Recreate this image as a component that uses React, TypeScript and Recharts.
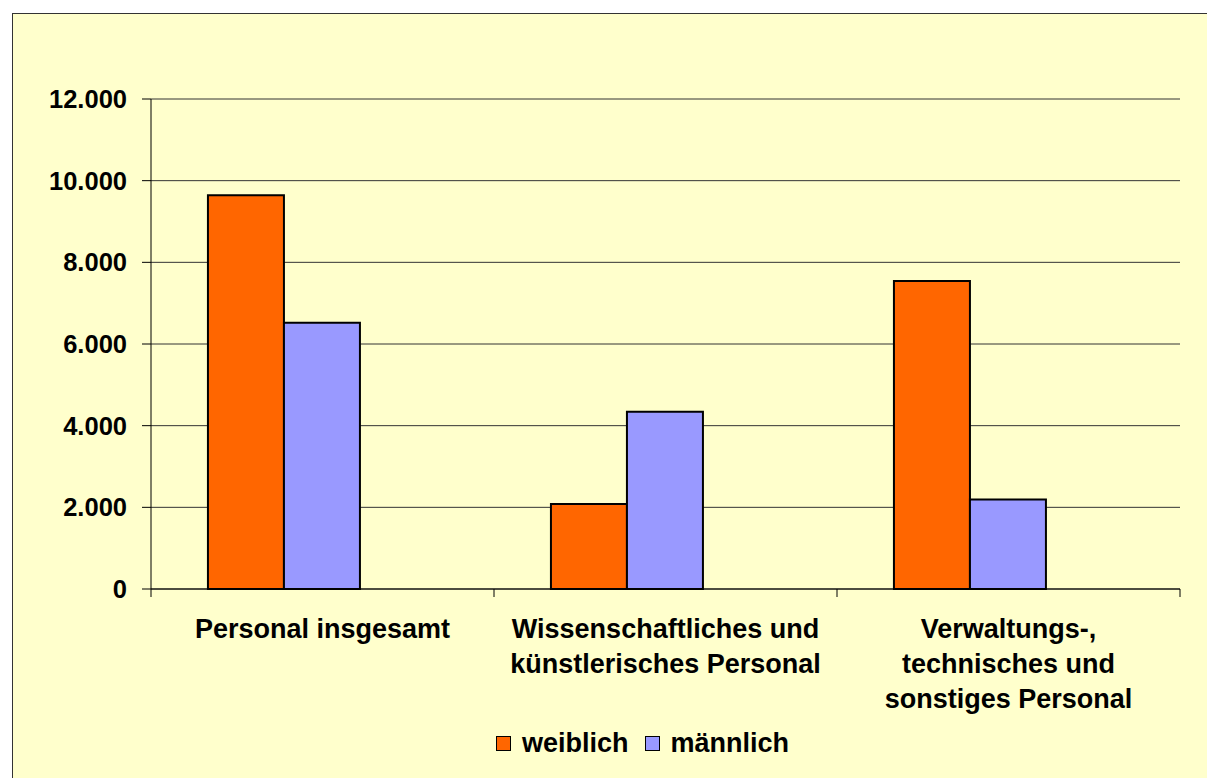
import React from "react";
import { BarChart, Bar, XAxis, YAxis, CartesianGrid } from "recharts";

const categories = [
  ["Personal insgesamt"],
  ["Wissenschaftliches und", "künstlerisches Personal"],
  ["Verwaltungs-,", "technisches und", "sonstiges Personal"],
];
const weiblich = [9645, 2080, 7540];
const maennlich = [6520, 4340, 2190];
const yTicks = [0, 2000, 4000, 6000, 8000, 10000, 12000];
const seriesNames = ["weiblich", "männlich"];
const seriesColors = ["#FF6600", "#9999FF"];

const data = categories.map((lines, i) => ({
  name: lines.join(" "),
  lines,
  weiblich: weiblich[i],
  maennlich: maennlich[i],
}));

const FONT = "'Liberation Sans', Arial, Helvetica, sans-serif";
const W = 1207;
const H = 778;
const X_H = 130;
const M = { top: 99, right: 27, bottom: 189 - X_H, left: 0 };
const Y_W = 151;
const BAND = (W - M.right - Y_W) / categories.length;

const fmt = (v: number) => v.toLocaleString("de-DE");

const XTick = (props: any) => {
  const { x, y, payload, index } = props;
  const lines: string[] = data[payload.index ?? index]?.lines ?? [String(payload.value)];
  return (
    <g>
      <line x1={x - BAND / 2} x2={x - BAND / 2} y1={y} y2={y + 8} stroke="#000" />
      {index === categories.length - 1 && (
        <line x1={x + BAND / 2} x2={x + BAND / 2} y1={y} y2={y + 8} stroke="#000" />
      )}
      {lines.map((t, k) => (
        <text
          key={k}
          x={x}
          y={y + 49 + k * 35}
          textAnchor="middle"
          fontFamily={FONT}
          fontWeight="bold"
          fontSize={27}
          fill="#000"
        >
          {t}
        </text>
      ))}
    </g>
  );
};

export default function App() {
  return (
    <div style={{ position: "fixed", left: 0, top: 0, width: W, height: H, overflow: "hidden", background: "#fff" }}>
      <div
        style={{
          position: "absolute",
          left: 12,
          top: 13,
          width: W + 20,
          height: H + 20,
          border: "1px solid #333",
          background: "#FFFFCC",
        }}
      />
      <div style={{ position: "absolute", left: 0, top: 0 }}>
        <BarChart width={W} height={H} data={data} margin={M} barCategoryGap="16.6%" barGap={0}>
          <CartesianGrid vertical={false} stroke="#333" strokeWidth={1} />
          <XAxis
            dataKey="name"
            axisLine={{ stroke: "#000" }}
            tickLine={false}
            tickSize={0}
            tickMargin={0}
            height={X_H}
            interval={0}
            tick={<XTick />}
          />
          <YAxis
            width={Y_W}
            domain={[0, 12000]}
            ticks={yTicks}
            tickFormatter={fmt}
            axisLine={{ stroke: "#000" }}
            tickLine={{ stroke: "#000" }}
            tickSize={9}
            tickMargin={15}
            tick={{ fontFamily: FONT, fontWeight: "bold", fontSize: 25.5, fill: "#000" }}
          />
          <Bar dataKey="weiblich" fill={seriesColors[0]} stroke="#000" strokeWidth={2} isAnimationActive={false} />
          <Bar dataKey="maennlich" fill={seriesColors[1]} stroke="#000" strokeWidth={2} isAnimationActive={false} />
          <Bar dataKey="leer" fill="none" isAnimationActive={false} />
        </BarChart>
      </div>
      <div
        style={{
          position: "absolute",
          left: 496,
          top: 728,
          display: "flex",
          alignItems: "center",
          fontFamily: FONT,
          fontWeight: "bold",
          fontSize: 27,
          color: "#000",
          whiteSpace: "nowrap",
        }}
      >
        {seriesNames.map((n, i) => (
          <div key={n} style={{ display: "flex", alignItems: "center", marginRight: 16 }}>
            <span
              style={{
                display: "inline-block",
                width: 13,
                height: 13,
                border: "1.5px solid #000",
                background: seriesColors[i],
                marginRight: 11,
              }}
            />
            <span>{n}</span>
          </div>
        ))}
      </div>
    </div>
  );
}
